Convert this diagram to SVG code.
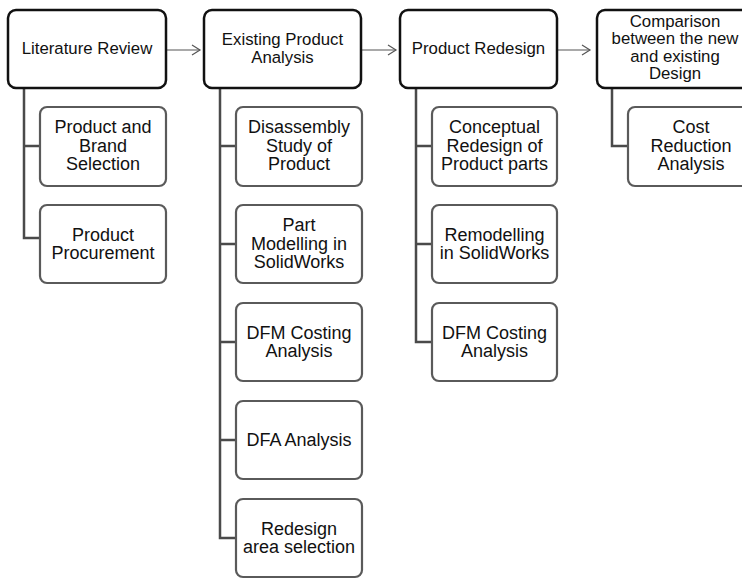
<svg xmlns="http://www.w3.org/2000/svg" width="742" height="579" viewBox="0 0 742 579">
<style>
.main{fill:#fff;stroke:#111;stroke-width:2.5}
.sub{fill:#fff;stroke:#5a5a5a;stroke-width:2.2}
.tm{font-family:"Liberation Sans",Arial,sans-serif;font-size:16.8px;fill:#111;text-anchor:middle}
.ts{font-family:"Liberation Sans",Arial,sans-serif;font-size:18px;fill:#111;text-anchor:middle}
.tree{fill:none;stroke:#4a4a4a;stroke-width:2.5}
.arr{fill:none;stroke:#555;stroke-width:1.2}
</style>
<defs>
<marker id="ah" markerWidth="12" markerHeight="12" refX="10" refY="6" orient="auto" markerUnits="userSpaceOnUse">
<path d="M2,1 L10,6 L2,11" fill="none" stroke="#555" stroke-width="1.2"/>
</marker>
</defs>
<rect width="742" height="579" fill="#fff"/>
<g id="connectors">
<line class="arr" x1="166" y1="50" x2="200" y2="50" marker-end="url(#ah)"/>
<line class="arr" x1="361" y1="50" x2="396" y2="50" marker-end="url(#ah)"/>
<line class="arr" x1="557" y1="50" x2="590" y2="50" marker-end="url(#ah)"/>
<path class="tree" d="M24,88 V238 H40 M24,146 H40"/>
<path class="tree" d="M220,88 V538 H236 M220,146 H236 M220,244 H236 M220,342 H236 M220,440 H236"/>
<path class="tree" d="M416,88 V342 H432 M416,146 H432 M416,244 H432"/>
<path class="tree" d="M612,88 V146 H628"/>
</g>
<g id="n-lit">
<rect class="main" x="8" y="10" width="158" height="78" rx="8"/>
<text class="tm" x="87" y="54">Literature Review</text>
</g>
<g id="n-existing">
<rect class="main" x="204" y="10" width="157" height="78" rx="8"/>
<text class="tm" x="282.5" y="44.5">Existing Product</text>
<text class="tm" x="282.5" y="62.5">Analysis</text>
</g>
<g id="n-redesign">
<rect class="main" x="400" y="10" width="157" height="78" rx="8"/>
<text class="tm" x="478.5" y="54">Product Redesign</text>
</g>
<g id="n-compare">
<rect class="main" x="597" y="10" width="158" height="78" rx="8"/>
<text class="tm" x="675" y="27">Comparison</text>
<text class="tm" x="675" y="44.3">between the new</text>
<text class="tm" x="675" y="61.6">and existing</text>
<text class="tm" x="675" y="79">Design</text>
</g>
<g id="n-brand">
<rect class="sub" x="40" y="107" width="126" height="79" rx="7"/>
<text class="ts" x="103" y="133">Product and</text>
<text class="ts" x="103" y="151.5">Brand</text>
<text class="ts" x="103" y="170">Selection</text>
</g>
<g id="n-procure">
<rect class="sub" x="40" y="205" width="126" height="78" rx="7"/>
<text class="ts" x="103" y="240.5">Product</text>
<text class="ts" x="103" y="259">Procurement</text>
</g>
<g id="n-disassembly">
<rect class="sub" x="236" y="107" width="126" height="79" rx="7"/>
<text class="ts" x="299" y="133">Disassembly</text>
<text class="ts" x="299" y="151.5">Study of</text>
<text class="ts" x="299" y="170">Product</text>
</g>
<g id="n-partmodel">
<rect class="sub" x="236" y="205" width="126" height="78" rx="7"/>
<text class="ts" x="299" y="231">Part</text>
<text class="ts" x="299" y="249.5">Modelling in</text>
<text class="ts" x="299" y="268">SolidWorks</text>
</g>
<g id="n-dfm1">
<rect class="sub" x="236" y="303" width="126" height="78" rx="7"/>
<text class="ts" x="299" y="338.5">DFM Costing</text>
<text class="ts" x="299" y="357">Analysis</text>
</g>
<g id="n-dfa">
<rect class="sub" x="236" y="401" width="126" height="78" rx="7"/>
<text class="ts" x="299" y="446">DFA Analysis</text>
</g>
<g id="n-area">
<rect class="sub" x="236" y="499" width="126" height="78" rx="7"/>
<text class="ts" x="299" y="534.5">Redesign</text>
<text class="ts" x="299" y="553">area selection</text>
</g>
<g id="n-concept">
<rect class="sub" x="432" y="107" width="125" height="79" rx="7"/>
<text class="ts" x="494.5" y="133">Conceptual</text>
<text class="ts" x="494.5" y="151.5">Redesign of</text>
<text class="ts" x="494.5" y="170">Product parts</text>
</g>
<g id="n-remodel">
<rect class="sub" x="432" y="205" width="125" height="78" rx="7"/>
<text class="ts" x="494.5" y="240.5">Remodelling</text>
<text class="ts" x="494.5" y="259">in SolidWorks</text>
</g>
<g id="n-dfm2">
<rect class="sub" x="432" y="303" width="125" height="78" rx="7"/>
<text class="ts" x="494.5" y="338.5">DFM Costing</text>
<text class="ts" x="494.5" y="357">Analysis</text>
</g>
<g id="n-cost">
<rect class="sub" x="628" y="107" width="126" height="79" rx="7"/>
<text class="ts" x="691" y="133">Cost</text>
<text class="ts" x="691" y="151.5">Reduction</text>
<text class="ts" x="691" y="170">Analysis</text>
</g>
</svg>
